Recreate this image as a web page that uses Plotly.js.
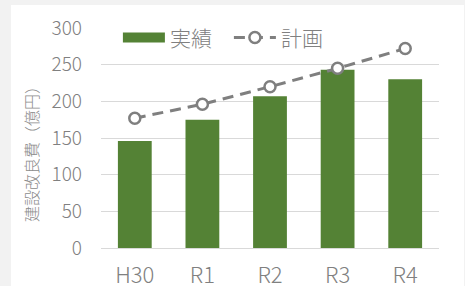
<!DOCTYPE html>
<html>
<head>
<meta charset="utf-8">
<script src="https://cdn.plot.ly/plotly-3.0.1.min.js"></script>
<style>
html,body{margin:0;padding:0;background:#f2f2f2;width:465px;height:286px;overflow:hidden;}
#chart{position:absolute;left:11px;top:5px;width:453px;height:290px;background:#fff;}
</style>
</head>
<body>
<div id="chart"></div>
<script>
const categories = ["H30", "R1", "R2", "R3", "R4"];
const actual = [146, 175, 207, 243, 230];
const plan = [177, 196, 220, 245, 272];
const yTicks = [0, 50, 100, 150, 200, 250, 300];
const yTitle = "建設改良費（億円）";

const font = "'Noto Sans CJK JP', 'Noto Sans', sans-serif";
const green = "#548235";
const gray = "#7f7f7f";

const traces = [
  {
    type: "bar",
    name: "実績",
    x: categories,
    y: actual,
    marker: {color: green},
    showlegend: false,
    hoverinfo: "skip"
  },
  {
    // legend entry for the bars (wide rectangle as in the reference)
    type: "scatter",
    mode: "lines",
    name: "実績",
    x: [null],
    y: [null],
    line: {color: green, width: 11},
    showlegend: true,
    hoverinfo: "skip"
  },
  {
    type: "scatter",
    mode: "lines+markers",
    name: "計画",
    x: categories,
    y: plan,
    line: {color: gray, width: 3, dash: "11px,7px"},
    marker: {symbol: "circle", size: 11, color: "#ffffff", line: {color: gray, width: 2.5}},
    hoverinfo: "skip"
  }
];

const layout = {
  width: 453,
  height: 290,
  margin: {l: 90, r: 25, t: 18, b: 47},
  paper_bgcolor: "#ffffff",
  plot_bgcolor: "#ffffff",
  font: {family: font, color: "#808080", weight: 300},
  bargap: 0.5,
  showlegend: true,
  legend: {
    orientation: "h",
    x: 0.05, xanchor: "left",
    y: 0.955, yanchor: "middle",
    bgcolor: "rgba(0,0,0,0)",
    font: {size: 21, color: "#808080", family: font, weight: 300},
    itemwidth: 42,
    entrywidth: 54,
    entrywidthmode: "pixels",
    traceorder: "normal"
  },
  xaxis: {
    type: "category",
    tickfont: {size: 22, color: "#808080", family: font, weight: 300},
    showgrid: false,
    showline: false,
    ticks: "",
    ticklabelstandoff: 12,
    fixedrange: true
  },
  yaxis: {
    range: [0, 300],
    tickvals: yTicks,
    ticktext: yTicks.map(String),
    tickfont: {size: 19, color: "#808080", family: font, weight: 300},
    showgrid: true,
    gridcolor: "#d9d9d9",
    gridwidth: 1,
    zeroline: true,
    zerolinecolor: "#d9d9d9",
    zerolinewidth: 1,
    showline: false,
    ticks: "",
    ticklabelstandoff: 18,
    fixedrange: true
  },
  annotations: [{
    text: yTitle,
    xref: "paper", yref: "paper",
    x: -0.205, y: 0.444,
    xanchor: "center", yanchor: "middle",
    textangle: -90,
    showarrow: false,
    font: {size: 16, color: "#8c8c8c", family: font, weight: 300}
  }]
};

Plotly.newPlot("chart", traces, layout, {displayModeBar: false, staticPlot: true});
</script>
</body>
</html>
